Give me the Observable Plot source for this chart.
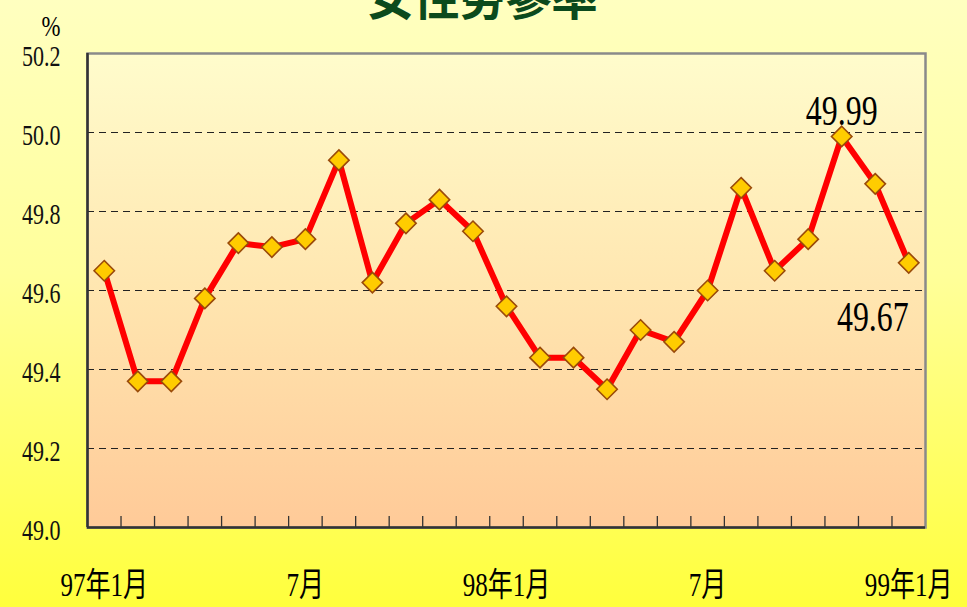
<!DOCTYPE html>
<html>
<head>
<meta charset="utf-8">
<script src="https://cdn.jsdelivr.net/npm/d3@7"></script>
<script src="https://cdn.jsdelivr.net/npm/@observablehq/plot@0.6"></script>
<style>
  html, body { margin: 0; padding: 0; }
  body {
    width: 967px; height: 607px; overflow: hidden;
    background: linear-gradient(to bottom, #FFFFC0 0%, #FFFF9A 45%, #FFFF3C 100%);
  }
  #chart svg { display: block; }
</style>
</head>
<body>
<div id="chart"></div>
<script>
// ---- data ----
const title = "女性勞參率";
const unitLabel = "%";
const months = ["97年1月","2月","3月","4月","5月","6月","7月","8月","9月","10月","11月","12月",
                "98年1月","2月","3月","4月","5月","6月","7月","8月","9月","10月","11月","12月","99年1月"];
const rates = [49.65, 49.37, 49.37, 49.58, 49.72, 49.71, 49.73, 49.93, 49.62, 49.77, 49.83, 49.75,
               49.56, 49.43, 49.43, 49.35, 49.50, 49.47, 49.60, 49.86, 49.65, 49.73, 49.99, 49.87, 49.67];
const xTickIndex = [0, 6, 12, 18, 24];
const xTickLabels = ["97年1月", "7月", "98年1月", "7月", "99年1月"];
const yTicks = [49.0, 49.2, 49.4, 49.6, 49.8, 50.0, 50.2];
const gridValues = [49.2, 49.4, 49.6, 49.8, 50.0];
const annotHigh = {index: 22, text: "49.99"};
const annotLast = {index: 24, text: "49.67"};

const data = rates.map((v, i) => ({i, month: months[i], v}));
const boundaries = d3.range(months.length - 1).map(i => i + 0.5);
const yMin = yTicks[0], yMax = yTicks[yTicks.length - 1];

const serif = "'Liberation Serif', 'Times New Roman', 'Noto Sans CJK TC', serif";
const fmt = d3.format(".1f");

const chart = Plot.plot({
  width: 967,
  height: 607,
  marginLeft: 87,
  marginRight: 42,
  marginTop: 53,
  marginBottom: 80,
  style: {background: "transparent", fontFamily: serif, fontSize: "29px", color: "#000", overflow: "visible"},
  x: {type: "linear", domain: [-0.5, months.length - 0.5], axis: null},
  y: {domain: [yMin, yMax], axis: null},
  marks: [
    Plot.frame({fill: "url(#plotGrad)", stroke: "#8a8a8a", strokeWidth: 2.5}),
    Plot.ruleY(gridValues, {stroke: "#222", strokeWidth: 1, strokeDasharray: "7,5"}),
    Plot.ruleX(boundaries, {y1: yMin, y2: yMin + 0.028, stroke: "#333", strokeWidth: 1.3}),
    Plot.ruleX([-0.5], {stroke: "#333", strokeWidth: 2.5}),
    Plot.ruleY([yMin], {stroke: "#333", strokeWidth: 2.5}),
    // y tick labels
    Plot.text(yTicks, {y: d => d, frameAnchor: "left", text: d => fmt(d), textAnchor: "end", lineAnchor: "middle",
      dx: -27, dy: 3, fontSize: 29, fontFamily: serif, fill: "#111"}),
    // x tick labels
    Plot.text(xTickIndex, {x: d => d, frameAnchor: "bottom", text: (d, k) => xTickLabels[k], lineAnchor: "top",
      dy: 45, fontSize: 33, fontFamily: serif, fill: "#000"}),
    Plot.line(data, {x: "i", y: "v", stroke: "#FF0000", strokeWidth: 6, strokeLinejoin: "miter"}),
    Plot.dot(data, {x: "i", y: "v", symbol: "diamond2", r: 9.2, fill: "#FFCC00", stroke: "#9A4A0A", strokeWidth: 1.6}),
    Plot.text([data[annotHigh.index]], {x: "i", y: "v", text: () => annotHigh.text, lineAnchor: "bottom", dy: -11, fontSize: 42, fontFamily: serif}),
    Plot.text([data[annotLast.index]], {x: "i", y: "v", text: () => annotLast.text, textAnchor: "end", lineAnchor: "top", dy: 38, fontSize: 42, fontFamily: serif}),
    Plot.text([unitLabel], {frameAnchor: "top-left", text: d => d, textAnchor: "end", lineAnchor: "middle", dx: -27, dy: -27, fontSize: 30, fontFamily: serif}),
    Plot.text([title], {frameAnchor: "top", text: d => d, lineAnchor: "bottom", dx: -24, dy: -39, fontSize: 46,
      fontWeight: "bold", fill: "#0B4A1C", fontFamily: "'Noto Sans CJK TC', sans-serif", letterSpacing: "8px"})
  ]
});

// gradient for plot area
const svg = d3.select(chart);
const defs = svg.insert("defs", ":first-child");
const g = defs.append("linearGradient").attr("id", "plotGrad").attr("x1", 0).attr("y1", 0).attr("x2", 0).attr("y2", 1);
g.append("stop").attr("offset", "0%").attr("stop-color", "#FFFCCC");
g.append("stop").attr("offset", "50%").attr("stop-color", "#FFE6B0");
g.append("stop").attr("offset", "100%").attr("stop-color", "#FFCA98");

// condense serif digit labels horizontally
svg.selectAll("text").each(function () {
  const t = this.textContent;
  if (/^[0-9.%年月]+$/.test(t)) {
    const tr = this.getAttribute("transform") || "";
    this.setAttribute("transform", tr + " scale(0.76,1)");
  }
});

document.getElementById("chart").appendChild(chart);
</script>
</body>
</html>
